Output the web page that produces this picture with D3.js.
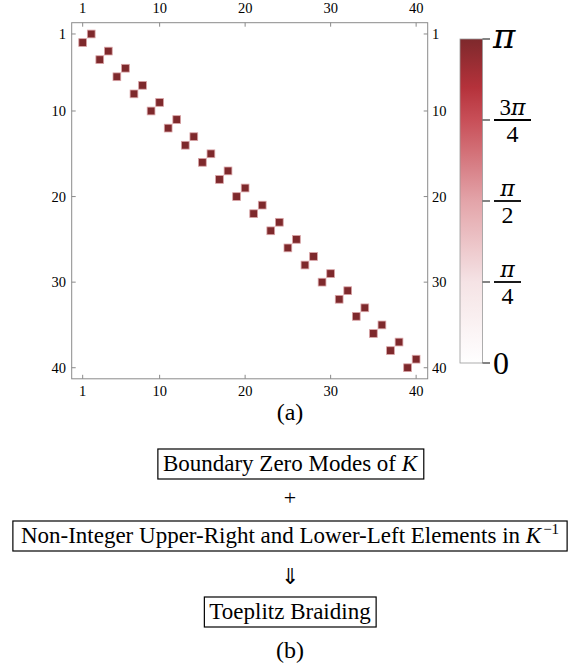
<!DOCTYPE html>
<html>
<head>
<meta charset="utf-8">
<title>Matrix plot and Toeplitz braiding</title>
<style>
  body { margin: 0; background: #fff; }
  svg text { font-family: "Liberation Serif", "Times New Roman", Times, serif; fill: #000; }
  .frame { fill: none; stroke: #8a8a8a; stroke-width: 1; }
  .tick line { stroke: #8a8a8a; }
  .box { fill: none; stroke: #000; stroke-width: 1.2; }
  .pi { font-family: "DejaVu Serif", serif !important; font-style: italic; }
</style>
</head>
<body>
<script src="https://d3js.org/d3.v7.min.js"></script>
<script>
// matrix entries (row, column, value) -- 2x2 off-diagonal blocks, all equal to pi
var PI = Math.PI;
var cellRow = [1,2,3,4,5,6,7,8,9,10,11,12,13,14,15,16,17,18,19,20,
               21,22,23,24,25,26,27,28,29,30,31,32,33,34,35,36,37,38,39,40];
var cellCol = [2,1,4,3,6,5,8,7,10,9,12,11,14,13,16,15,18,17,20,19,
               22,21,24,23,26,25,28,27,30,29,32,31,34,33,36,35,38,37,40,39];
var cellValue = [PI,PI,PI,PI,PI,PI,PI,PI,PI,PI,PI,PI,PI,PI,PI,PI,PI,PI,PI,PI,
                 PI,PI,PI,PI,PI,PI,PI,PI,PI,PI,PI,PI,PI,PI,PI,PI,PI,PI,PI,PI];
var matrixTicks = [1, 10, 20, 30, 40];
var barTicks = [0, PI/4, PI/2, 3*PI/4, PI];
var barNum = ["0", "\u03c0", "\u03c0", "3\u03c0", "\u03c0"];
var barDen = [null, "4", "2", "4", null];
var stepTexts = ["Boundary Zero Modes of ", "+", "Non-Integer Upper-Right and Lower-Left Elements in ", "\u21d3", "Toeplitz Braiding"];

var W = 580, H = 668;
var svg = d3.select("body").append("svg").attr("width", W).attr("height", H);

var n = 40;
var idx = d3.range(1, n + 1);
var x = d3.scaleBand().domain(idx).range([78.4, 420.4]);
var y = d3.scaleBand().domain(idx).range([29.7, 372]);

var color = d3.scaleLinear()
  .domain([0, PI*0.25, PI*0.5, PI*0.75, PI*0.85, PI])
  .range(["#ffffff", "#f5e3e5", "#e3a4a9", "#c84f58", "#b5323b", "#7e292c"]);

// frame
var fx0 = 71.7, fx1 = 427.7, fy0 = 22.7, fy1 = 378.8;
svg.append("rect").attr("class", "frame")
  .attr("x", fx0).attr("y", fy0).attr("width", fx1 - fx0).attr("height", fy1 - fy0);

// cells
var cells = cellRow.map(function(r, i) { return {r: r, c: cellCol[i], v: cellValue[i]}; });
svg.selectAll(".cell").data(cells).enter().append("rect")
  .attr("class", "cell")
  .attr("x", function(d) { return x(d.c) + 0.4; })
  .attr("y", function(d) { return y(d.r) + 0.4; })
  .attr("width", x.bandwidth() - 0.8)
  .attr("height", y.bandwidth() - 0.8)
  .attr("fill", function(d) { return color(d.v); })
  .attr("stroke", "#d9a3a6")
  .attr("stroke-width", 0.8);

// frame ticks (inward) and labels
var xc = function(v) { return x(v) + x.bandwidth() / 2; };
var yc = function(v) { return y(v) + y.bandwidth() / 2; };
var tk = svg.append("g").attr("class", "tick");
matrixTicks.forEach(function(t) {
  tk.append("line").attr("x1", xc(t)).attr("x2", xc(t)).attr("y1", fy0).attr("y2", fy0 + 4);
  tk.append("line").attr("x1", xc(t)).attr("x2", xc(t)).attr("y1", fy1).attr("y2", fy1 - 4);
  tk.append("line").attr("y1", yc(t)).attr("y2", yc(t)).attr("x1", fx0).attr("x2", fx0 + 4);
  tk.append("line").attr("y1", yc(t)).attr("y2", yc(t)).attr("x1", fx1).attr("x2", fx1 - 4);
  svg.append("text").attr("x", xc(t)).attr("y", 13).attr("text-anchor", "middle")
    .attr("font-size", 14.5).text(t);
  svg.append("text").attr("x", xc(t)).attr("y", 396).attr("text-anchor", "middle")
    .attr("font-size", 14.5).text(t);
  svg.append("text").attr("x", 66).attr("y", yc(t) + 5).attr("text-anchor", "end")
    .attr("font-size", 14.5).text(t);
  svg.append("text").attr("x", 432).attr("y", yc(t) + 5).attr("text-anchor", "start")
    .attr("font-size", 14.5).text(t);
});

// colour bar
var cb = d3.scaleLinear().domain([0, PI]).range([363, 39]);
var grad = svg.append("defs").append("linearGradient").attr("id", "cbar")
  .attr("x1", 0).attr("y1", 1).attr("x2", 0).attr("y2", 0);
d3.range(0, 1.0001, 0.05).forEach(function(f) {
  grad.append("stop").attr("offset", f).attr("stop-color", color(f * PI));
});
svg.append("rect").attr("x", 460).attr("y", cb(PI)).attr("width", 22.5)
  .attr("height", cb(0) - cb(PI)).attr("fill", "url(#cbar)")
  .attr("stroke", "#9a9a9a").attr("stroke-width", 0.8);

barTicks.forEach(function(t, i) {
  var ty = cb(t);
  svg.append("line").attr("x1", 482.5).attr("x2", 490).attr("y1", ty).attr("y2", ty)
    .attr("stroke", "#333").attr("stroke-width", 1.2);
  if (barDen[i] === null) {
    svg.append("text").attr("x", 493).attr("y", ty + (i === 0 ? 11 : 9))
      .attr("font-size", i === 0 ? 32 : 34)
      .attr("class", i === 0 ? null : "pi")
      .text(barNum[i]);
  } else {
    var w = barNum[i].length > 1 ? 37 : 27;
    var cx = 494 + w / 2;
    svg.append("line").attr("x1", 494).attr("x2", 494 + w).attr("y1", ty).attr("y2", ty)
      .attr("stroke", "#000").attr("stroke-width", 1.8);
    var num = svg.append("text").attr("x", cx).attr("y", ty - 5).attr("text-anchor", "middle")
      .attr("font-size", 23);
    if (barNum[i].length > 1) num.append("tspan").text(barNum[i].charAt(0));
    num.append("tspan").attr("class", "pi").attr("font-size", 22).text("\u03c0");
    svg.append("text").attr("x", cx).attr("y", ty + 22).attr("text-anchor", "middle")
      .attr("font-size", 24).text(barDen[i]);
  }
});

// captions
var mid = 290;
svg.append("text").attr("x", mid).attr("y", 420).attr("text-anchor", "middle")
  .attr("font-size", 24).text("(a)");

function boxedText(cy, label, sup) {
  var t = svg.append("text").attr("x", mid).attr("y", cy + 7).attr("text-anchor", "middle")
    .attr("font-size", 23);
  t.append("tspan").text(label);
  if (sup !== undefined) {
    t.append("tspan").attr("font-style", "italic").text("K");
    if (sup) t.append("tspan").attr("dx", 2).attr("dy", -9).attr("font-size", 15).text(sup);
  }
  var bb = t.node().getBBox();
  var pad = sup ? 8 : 5;
  svg.append("rect").attr("class", "box")
    .attr("x", bb.x - pad).attr("y", cy - 15).attr("width", bb.width + 2 * pad).attr("height", 30);
}

boxedText(464, stepTexts[0], "");
svg.append("text").attr("x", mid).attr("y", 505).attr("text-anchor", "middle")
  .attr("font-size", 22).text(stepTexts[1]);
boxedText(536, stepTexts[2], "\u22121");
svg.append("text").attr("x", mid).attr("y", 584).attr("text-anchor", "middle")
  .attr("font-size", 22).text(stepTexts[3]);
boxedText(612, stepTexts[4]);
svg.append("text").attr("x", mid).attr("y", 658).attr("text-anchor", "middle")
  .attr("font-size", 24).text("(b)");
</script>
</body>
</html>
